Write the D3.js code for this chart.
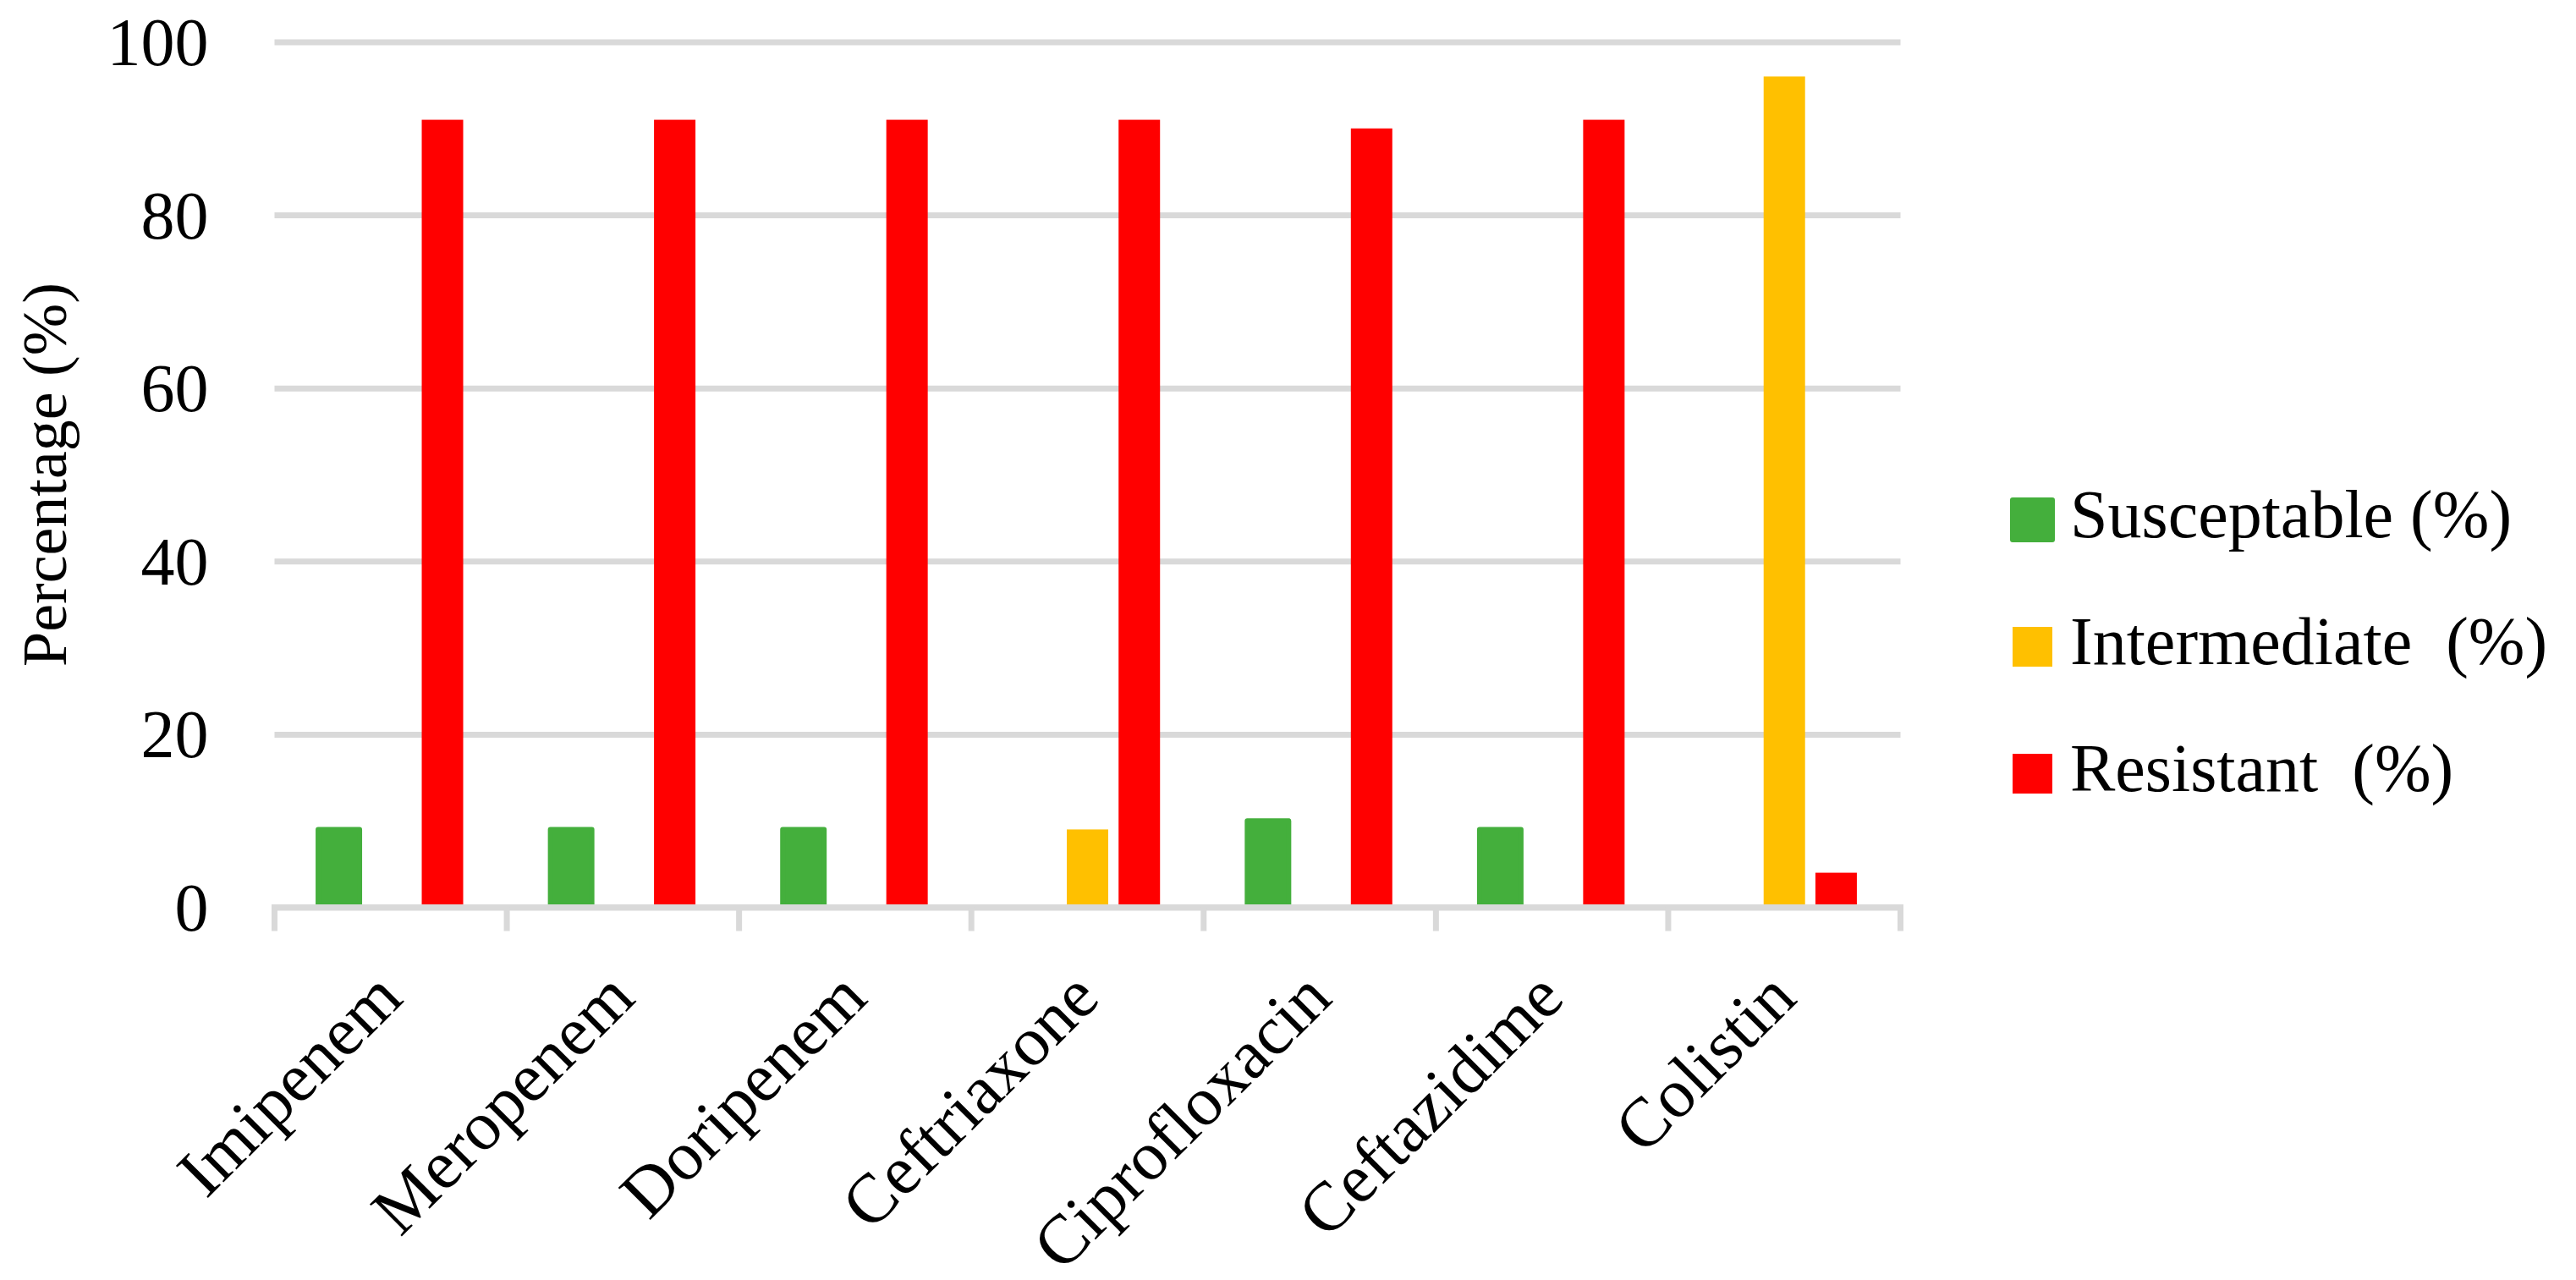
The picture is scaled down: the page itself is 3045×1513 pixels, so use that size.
<!DOCTYPE html>
<html>
<head>
<meta charset="utf-8">
<script src="https://cdn.jsdelivr.net/npm/d3@7"></script>
<style>
  body { margin: 0; background: #fff; }
  text { white-space: pre; fill: #000; }
  .serif { font-family: "Palatino Linotype", "Book Antiqua", Palatino, "Liberation Serif", serif; }
  .times { font-family: "Times New Roman", "Liberation Serif", serif; }
</style>
</head>
<body>
<svg id="chart" width="3045" height="1513"></svg>
<script>
// antibiotic resistance profile, values in percent
var categories = ['Imipenem', 'Meropenem', 'Doripenem', 'Ceftriaxone', 'Ciprofloxacin', 'Ceftazidime', 'Colistin'];
var susceptible = [9, 9, 9, 0, 10, 9, 0];
var intermediate = [0, 0, 0, 9, 0, 0, 96];
var resistant = [91, 91, 91, 91, 90, 91, 4];
var seriesNames = ['Susceptable (%)', 'Intermediate  (%)', 'Resistant  (%)'];
var seriesColors = ['#44AF3C', '#FFC000', '#FF0000'];
var yTicks = [0, 20, 40, 60, 80, 100];

var GRID = '#D9D9D9';
// plot box (note: "top" is reserved on window, so prefixed names)
var plotL = 324.5, plotR = 2246.5, plotT = 49.5, plotB = 1072.5;

var svg = d3.select('#chart');

var x0 = d3.scaleBand()
    .domain(categories)
    .range([plotL, plotR])
    .paddingInner(0.331)
    .paddingOuter(0.1655);

var keys = [0, 1, 2];
var x1 = d3.scaleBand()
    .domain(keys)
    .range([0, x0.bandwidth()])
    .paddingInner(0.2)
    .paddingOuter(0.1);

var y = d3.scaleLinear().domain([0, 100]).range([plotB, plotT]);

// gridlines + y labels
var yAxis = svg.append('g')
    .attr('transform', 'translate(' + plotL + ',0)')
    .call(d3.axisLeft(y).tickValues(yTicks).tickSize(-(plotR - plotL)).tickPadding(78));
yAxis.select('.domain').remove();
yAxis.selectAll('.tick line').attr('stroke', GRID).attr('stroke-width', 7);
yAxis.selectAll('.tick text')
    .attr('class', 'times')
    .attr('font-size', 80)
    .attr('dy', null)
    .attr('dominant-baseline', 'central');

// bars
var rows = categories.map(function (c, i) {
  return { cat: c, vals: [susceptible[i], intermediate[i], resistant[i]] };
});

var groups = svg.append('g').selectAll('g')
    .data(rows)
    .enter().append('g')
    .attr('transform', function (d) { return 'translate(' + x0(d.cat) + ',0)'; });

groups.selectAll('rect')
    .data(function (d) {
      return keys.map(function (k) { return { key: k, value: d.vals[k] }; })
        .filter(function (e) { return e.value > 0; });
    })
    .enter().append('rect')
    .attr('x', function (d) { return x1(d.key); })
    .attr('y', function (d) { return y(d.value); })
    .attr('width', x1.bandwidth())
    .attr('height', function (d) { return y(0) - y(d.value); })
    .attr('fill', function (d) { return seriesColors[d.key]; })
    .attr('stroke', function (d) { return d.key === 0 ? seriesColors[0] : 'none'; })
    .attr('stroke-width', 6)
    .attr('stroke-linejoin', 'round');

// x axis line and boundary ticks
var xg = svg.append('g');
xg.append('line')
    .attr('x1', plotL - 3.5).attr('x2', plotR + 3.5)
    .attr('y1', plotB).attr('y2', plotB)
    .attr('stroke', GRID).attr('stroke-width', 7);
xg.selectAll('line.tk')
    .data(d3.range(categories.length + 1))
    .enter().append('line')
    .attr('class', 'tk')
    .attr('x1', function (i) { return plotL + i * x0.step(); })
    .attr('x2', function (i) { return plotL + i * x0.step(); })
    .attr('y1', plotB).attr('y2', plotB + 28)
    .attr('stroke', GRID).attr('stroke-width', 7);

// category labels, rotated
xg.selectAll('text.cat')
    .data(categories)
    .enter().append('text')
    .attr('class', 'cat serif')
    .attr('font-size', 82)
    .attr('text-anchor', 'end')
    .attr('transform', function (c) {
      return 'translate(' + (x0(c) + x0.bandwidth() / 2 + 17) + ',1183) rotate(-45)';
    })
    .text(function (c) { return c; });

// y title
svg.append('text')
    .attr('class', 'serif')
    .attr('font-size', 74)
    .attr('text-anchor', 'middle')
    .attr('transform', 'translate(78,' + ((plotT + plotB) / 2) + ') rotate(-90)')
    .text('Percentage (%)');

// legend
var legend = svg.append('g').selectAll('g')
    .data(seriesNames)
    .enter().append('g')
    .attr('transform', function (d, i) { return 'translate(2379,' + (591 + i * 150) + ')'; });
legend.append('rect')
    .attr('width', 47).attr('height', 47)
    .attr('fill', function (d, i) { return seriesColors[i]; })
    .attr('stroke', function (d, i) { return i === 0 ? seriesColors[0] : 'none'; })
    .attr('stroke-width', 6)
    .attr('stroke-linejoin', 'round');
legend.append('text')
    .attr('class', 'serif')
    .attr('font-size', 80)
    .attr('x', 68)
    .attr('y', 44)
    .text(function (d) { return d; });
</script>
</body>
</html>
